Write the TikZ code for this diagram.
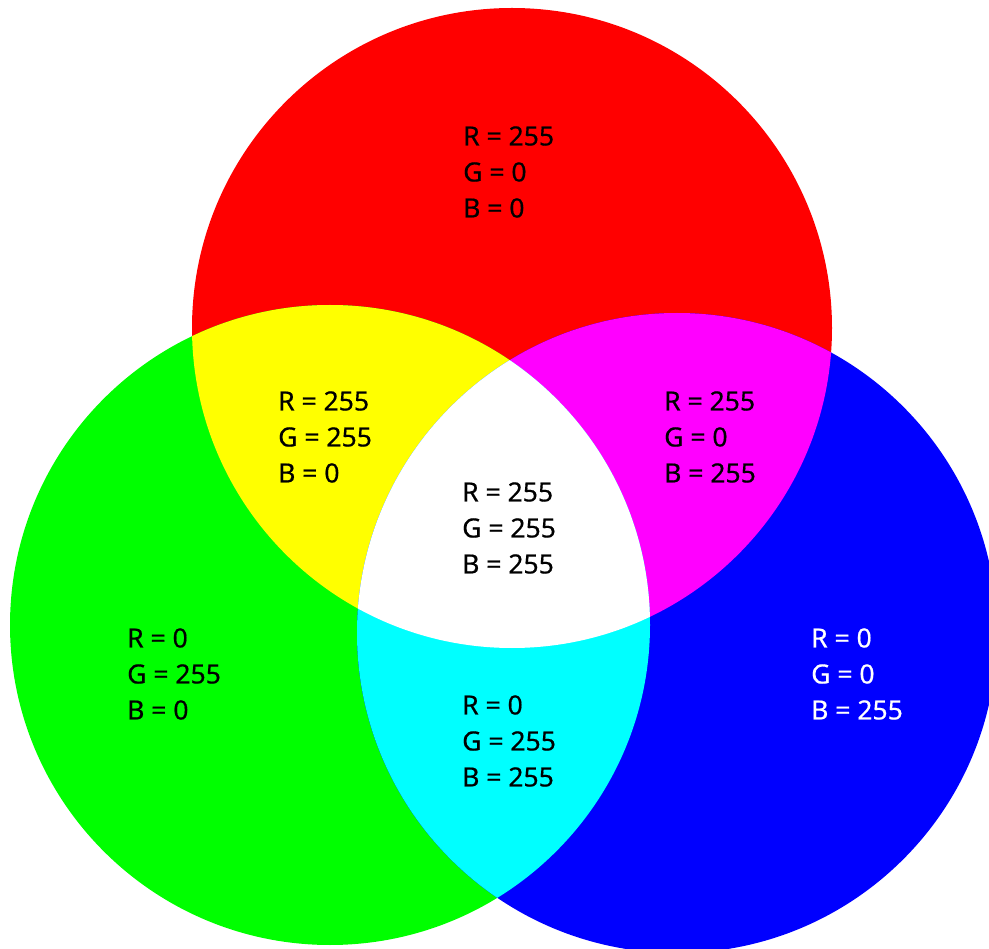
\documentclass[tikz,border=0pt]{standalone}
\usepackage{fontspec}
\setmainfont{Noto Sans}
\newfontfamily\lblfont{Noto Sans}[FakeBold=0.5]
\definecolor{pred}{RGB}{255,0,0}
\definecolor{pgreen}{RGB}{0,255,0}
\definecolor{pblue}{RGB}{0,0,255}
\definecolor{pyellow}{RGB}{255,255,0}
\definecolor{pmagenta}{RGB}{255,0,255}
\definecolor{pcyan}{RGB}{0,255,255}
\begin{document}
\begin{tikzpicture}[x=1pt,y=-1pt,
  lbl/.style={anchor=west,inner sep=0pt,align=left,font=\lblfont\fontsize{26.5}{36}\selectfont,text=black},
  lblw/.style={lbl,text=white},
  disc/.style={radius=320pt}]
\useasboundingbox (0,0) rectangle (989,949);
\coordinate (CR) at (512,328);
\coordinate (CG) at (330,625);
\coordinate (CB) at (677,633);
\begin{scope}
  \clip (0,0) rectangle (989,949);
  \fill[pred] (CR) circle[disc];
  \fill[pgreen] (CG) circle[disc];
  \fill[pblue] (CB) circle[disc];
  \begin{scope}
    \clip (CR) circle[disc];
    \fill[pyellow] (CG) circle[disc];
    \fill[pmagenta] (CB) circle[disc];
  \end{scope}
  \begin{scope}
    \clip (CG) circle[disc];
    \fill[pcyan] (CB) circle[disc];
  \end{scope}
  \begin{scope}
    \clip (CR) circle[disc];
    \clip (CG) circle[disc];
    \fill[white] (CB) circle[disc];
  \end{scope}
\end{scope}
\node[lbl] (tred) at (463,172) {R = 255\\G = 0\\B = 0};
\node[lbl] (tyel) at (278,437) {R = 255\\G = 255\\B = 0};
\node[lbl] (tmag) at (664,437) {R = 255\\G = 0\\B = 255};
\node[lbl] (twhi) at (462,528) {R = 255\\G = 255\\B = 255};
\node[lbl] (tgre) at (127,674) {R = 0\\G = 255\\B = 0};
\node[lbl] (tcya) at (462,741) {R = 0\\G = 255\\B = 255};
\node[lblw] (tblu) at (811,674) {R = 0\\G = 0\\B = 255};
\end{tikzpicture}
\end{document}
